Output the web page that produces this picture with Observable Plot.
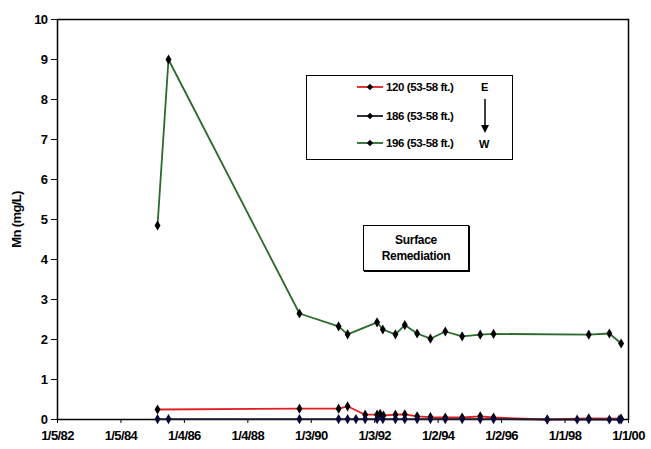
<!DOCTYPE html>
<html>
<head>
<meta charset="utf-8">
<script src="https://cdn.jsdelivr.net/npm/d3@7"></script>
<script src="https://cdn.jsdelivr.net/npm/@observablehq/plot@0.6"></script>
<style>
  html, body { margin: 0; padding: 0; background: #fff; }
  #wrap { position: relative; width: 651px; height: 449px; font-family: "Liberation Sans", Arial, sans-serif; }
  .box { position: absolute; border: 1.5px solid #000; box-sizing: border-box; background: #fff; }
  .lg-row { position: absolute; left: 50px; font-size: 11.5px; font-weight: bold; display: flex; align-items: center; letter-spacing: -0.4px; }
  .lg-row svg { margin-right: 3px; }
  .ew { position: absolute; font-size: 11px; font-weight: bold; }
</style>
</head>
<body>
<div id="wrap"></div>
<script>
// Tick labels of the x axis (M/D/YY)
const xTickLabels = ["1/5/82","1/5/84","1/4/86","1/4/88","1/3/90","1/3/92","1/2/94","1/2/96","1/1/98","1/1/00"];
const yTicks = [0,1,2,3,4,5,6,7,8,9,10];

// Series 196 (53-58 ft.)
const dates196 = ["1985-03-01","1985-07-05","1989-08-20","1990-11-13","1991-02-25","1992-01-30","1992-04-05","1992-08-28","1992-12-14","1993-05-05","1993-10-05","1994-03-25","1994-10-05","1995-05-01","1995-10-01","1998-10-01","1999-05-26","1999-10-08"];
const values196 = [4.85, 9.0, 2.65, 2.33, 2.13, 2.43, 2.25, 2.13, 2.36, 2.15, 2.02, 2.2, 2.08, 2.12, 2.14, 2.12, 2.15, 1.9];

// Series 120 (53-58 ft.)
const dates120 = ["1985-03-01","1989-08-20","1990-11-13","1991-02-25","1991-09-15","1992-01-30","1992-03-05","1992-04-12","1992-08-28","1992-12-14","1993-05-05","1993-10-05","1994-03-25","1994-10-05","1995-05-01","1995-10-01","1997-06-10","1998-10-01","1999-10-08"];
const values120 = [0.25, 0.27, 0.27, 0.33, 0.12, 0.12, 0.14, 0.1, 0.12, 0.13, 0.08, 0.06, 0.05, 0.05, 0.08, 0.05, 0.0, 0.03, 0.02];

// Series 186 (53-58 ft.)
const dates186 = ["1985-03-01","1985-07-05","1989-08-20","1990-11-13","1991-02-25","1991-06-01","1991-09-15","1992-01-30","1992-04-05","1992-08-28","1992-12-14","1993-05-05","1993-10-05","1994-03-25","1994-10-05","1995-05-01","1995-10-01","1997-06-10","1998-05-20","1998-10-01","1999-05-26","1999-09-15","1999-10-08"];
const values186 = [0.01, 0.01, 0.01, 0.01, 0.01, 0.01, 0.01, 0.01, 0.01, 0.01, 0.01, 0.01, 0.01, 0.01, 0.01, 0.01, 0.01, 0.0, 0.0, 0.0, 0.0, 0.0, 0.0];

const seriesNames = ["120 (53-58 ft.)", "186 (53-58 ft.)", "196 (53-58 ft.)"];
const seriesColors = ["#e31e1e", "#1a1a2e", "#2a6a2a"];

function parseTick(s) {
  const [m, d, y] = s.split("/").map(Number);
  return new Date(Date.UTC((y < 50 ? 2000 : 1900) + y, m - 1, d));
}
const tickDates = xTickLabels.map(parseTick);
const toRows = (ds, vs, name) => ds.map((d, i) => ({date: new Date(d + "T00:00:00Z"), value: vs[i], series: name}));
const s120 = toRows(dates120, values120, seriesNames[0]);
const s186 = toRows(dates186, values186, seriesNames[1]);
const s196 = toRows(dates196, values196, seriesNames[2]);

const chart = Plot.plot({
  width: 651,
  height: 449,
  marginLeft: 57,
  marginRight: 23,
  marginTop: 19,
  marginBottom: 30,
  style: {fontFamily: "'Liberation Sans', Arial, sans-serif", fontSize: "13px", fontWeight: "bold", background: "#fff", color: "#000", letterSpacing: "-0.6px"},
  x: {type: "utc", domain: [tickDates[0], tickDates[tickDates.length - 1]], ticks: tickDates,
      tickFormat: (d) => xTickLabels[tickDates.findIndex(t => +t === +d)], tickSize: 4, tickPadding: 7, label: null},
  y: {domain: [0, 10], ticks: yTicks, tickSize: 6, tickPadding: 4, label: "Mn (mg/L)", labelAnchor: "center", labelArrow: "none", labelOffset: 46},
  marks: [
    Plot.frame({stroke: "#000", strokeWidth: 1.5}),
    Plot.line(s196, {x: "date", y: "value", stroke: seriesColors[2], strokeWidth: 1.8}),
    Plot.line(s120, {x: "date", y: "value", stroke: seriesColors[0], strokeWidth: 1.8}),
    Plot.line(s186, {x: "date", y: "value", stroke: seriesColors[1], strokeWidth: 1.8}),
    Plot.dot(s196, {x: "date", y: "value", symbol: "diamond", r: 3.1, fill: "#000"}),
    Plot.dot(s120, {x: "date", y: "value", symbol: "diamond", r: 3.1, fill: "#000"}),
    Plot.dot(s186, {x: "date", y: "value", symbol: "diamond", r: 3.1, fill: "#0a0a3a"})
  ]
});
const wrap = document.getElementById("wrap");
wrap.appendChild(chart);

// Legend box
const legend = document.createElement("div");
legend.className = "box";
Object.assign(legend.style, {left: "306px", top: "75px", width: "207px", height: "85px"});
const rowTops = [5, 34, 61];
seriesNames.forEach((name, i) => {
  const row = document.createElement("div");
  row.className = "lg-row";
  row.style.top = rowTops[i] + "px";
  row.innerHTML = `<svg width="26" height="12"><line x1="0" y1="6" x2="26" y2="6" stroke="${seriesColors[i]}" stroke-width="1.8"/><path d="M13,2.8 L16.2,6 L13,9.2 L9.8,6 Z" fill="#000"/></svg><span>${name}</span>`;
  legend.appendChild(row);
});
const e = document.createElement("div"); e.className = "ew"; e.textContent = "E";
Object.assign(e.style, {left: "174px", top: "5px"});
const w = document.createElement("div"); w.className = "ew"; w.textContent = "W";
Object.assign(w.style, {left: "172px", top: "62px"});
const arrow = document.createElementNS("http://www.w3.org/2000/svg", "svg");
arrow.setAttribute("width", "12"); arrow.setAttribute("height", "36");
arrow.style.position = "absolute"; arrow.style.left = "172px"; arrow.style.top = "23px";
arrow.innerHTML = '<line x1="6" y1="0" x2="6" y2="28" stroke="#000" stroke-width="1.5"/><path d="M2,26 L10,26 L6,34 Z" fill="#000"/>';
legend.appendChild(e); legend.appendChild(arrow); legend.appendChild(w);
wrap.appendChild(legend);

// Annotation box
const note = document.createElement("div");
note.className = "box";
Object.assign(note.style, {left: "363px", top: "225px", width: "106px", height: "46px", fontSize: "12px", fontWeight: "bold", textAlign: "center", lineHeight: "16px", paddingTop: "6px", letterSpacing: "-0.3px", boxShadow: "1px 1px 0 #000"});
note.innerHTML = "Surface<br>Remediation";
wrap.appendChild(note);
</script>
</body>
</html>
